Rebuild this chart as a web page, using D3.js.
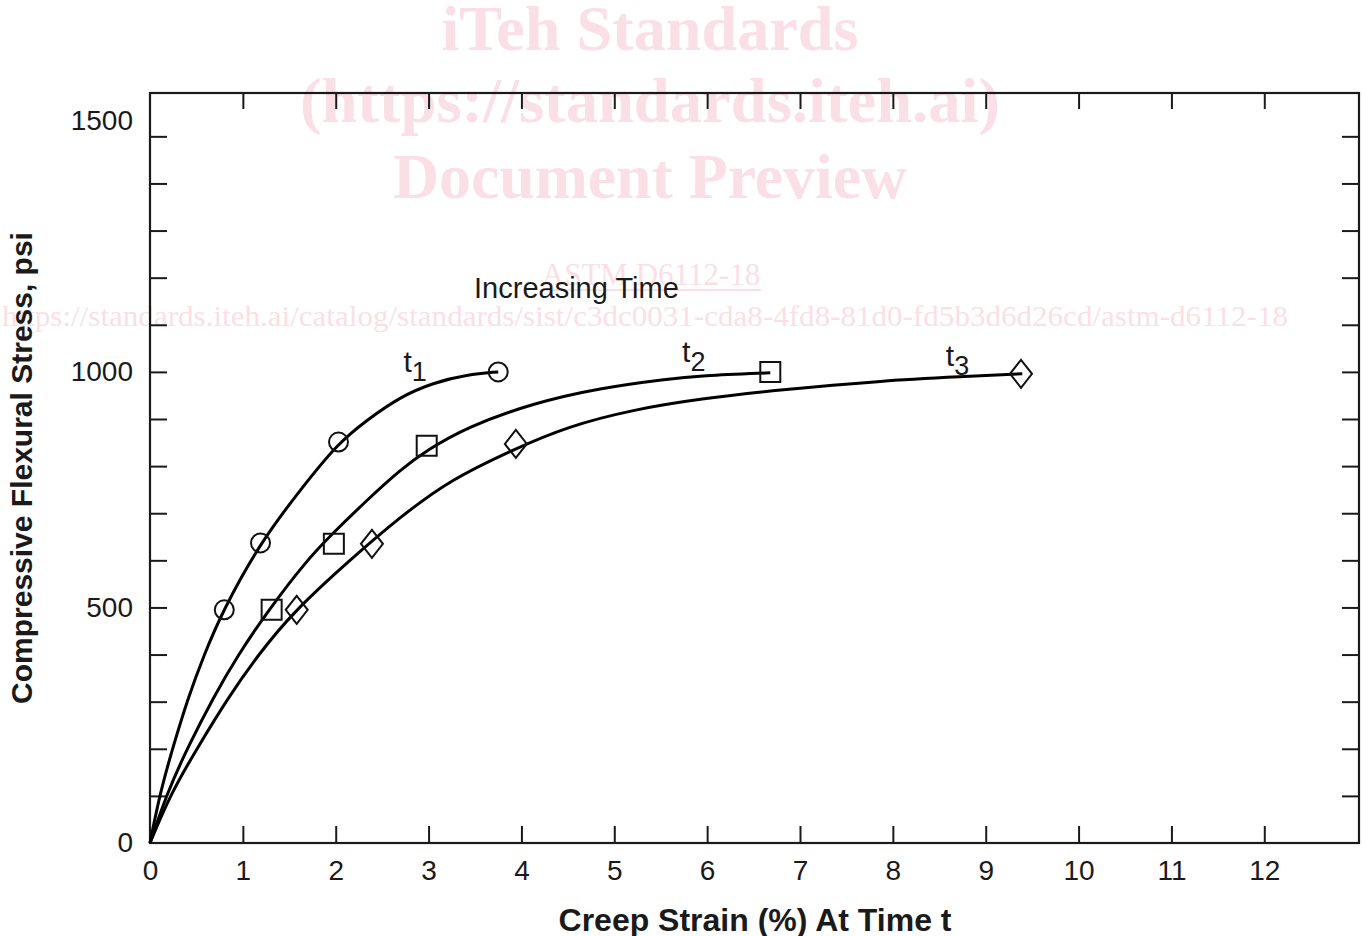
<!DOCTYPE html>
<html>
<head>
<meta charset="utf-8">
<script src="https://cdn.jsdelivr.net/npm/d3@7"></script>
<style>
  html, body { margin: 0; padding: 0; background: #fff; }
  svg { display: block; }
</style>
</head>
<body>
<svg id="chart" width="1369" height="936"></svg>
<script>
// ---------- data ----------
const xTickValues = [0,1,2,3,4,5,6,7,8,9,10,11,12];
const yTickValues = [0,100,200,300,400,500,600,700,800,900,1000,1100,1200,1300,1400,1500];
const yLabelValues = [0,500,1000,1500];

// fitted curves (strain %, stress psi)
const curveT1 = [[0,0],[0.108,106],[0.248,204],[0.409,308],[0.582,399],[0.776,490],[1.185,637],[1.616,749],[2.025,849],[2.338,898],[2.693,947],[3.049,977],[3.415,994],[3.75,1000]];
const curveT2 = [[0,0],[0.183,106],[0.409,204],[0.679,308],[0.948,399],[1.26,490],[1.691,601],[1.971,658],[2.338,728],[2.693,792],[2.984,834],[3.415,883],[4.126,934],[4.848,966],[5.569,985],[5.925,992],[6.68,998]];
const curveT3 = [[0,0],[0.226,106],[0.517,204],[0.84,308],[1.163,399],[1.54,490],[2.154,601],[2.693,692],[3.232,771],[3.91,835],[4.492,884],[5.203,920],[5.925,943],[6.787,962],[7.864,981],[8.758,990],[9.394,996]];

// measured points
const pointsT1 = [[0.80,495],[1.19,637],[2.03,851],[3.75,1000]];
const pointsT2 = [[1.31,495],[1.98,635],[2.98,843],[6.68,1000]];
const pointsT3 = [[1.58,495],[2.39,635],[3.94,847],[9.38,996]];

const curveLabels = [
  {t:"t", sub:"1", x:2.73, y:1000},
  {t:"t", sub:"2", x:5.73, y:1021},
  {t:"t", sub:"3", x:8.57, y:1013}
];
const annotation = {text:"Increasing Time", x:3.49, y:1157};

const xTitle = "Creep Strain (%) At Time t";
const yTitle = "Compressive Flexural Stress, psi";

const watermarkBig = ["iTeh Standards", "(https://standards.iteh.ai)", "Document Preview"];
const watermarkCode = "ASTM D6112-18";
const watermarkUrl = "https://standards.iteh.ai/catalog/standards/sist/c3dc0031-cda8-4fd8-81d0-fd5b3d6d26cd/astm-d6112-18";

// ---------- layout ----------
const svg = d3.select("#chart");
const L = 150, R = 1359, T = 93, B = 843;
const x = d3.scaleLinear().domain([0, 13.02]).range([L, R]);
const y = d3.scaleLinear().domain([0, 1592]).range([B, T]);
const ink = "#1a1a1a";
const pink = "#fadfe7";
const sans = "'Liberation Sans', Arial, sans-serif";
const serif = "'Liberation Serif', 'Times New Roman', serif";

// ---------- watermark (behind) ----------
const wm = svg.append("g").attr("fill", pink).attr("font-family", serif);
const wmBase = [50, 122, 198];
const wmLen = [417, 700, 514];
watermarkBig.forEach((s, i) => {
  wm.append("text").attr("x", 650).attr("y", wmBase[i])
    .attr("text-anchor", "middle").attr("font-weight", "bold")
    .attr("font-size", 64).attr("textLength", wmLen[i]).attr("lengthAdjust", "spacingAndGlyphs").text(s);
});
wm.append("text").attr("x", 651).attr("y", 285).attr("text-anchor", "middle")
  .attr("font-size", 31).text(watermarkCode);
wm.append("line").attr("x1", 541).attr("x2", 761).attr("y1", 290).attr("y2", 290)
  .attr("stroke", pink).attr("stroke-width", 2);
wm.append("text").attr("x", 2).attr("y", 326).attr("font-size", 29)
  .attr("textLength", 1286).attr("lengthAdjust", "spacingAndGlyphs").text(watermarkUrl);

// ---------- axes ----------
const fontSizeTick = 28;
const gx = svg.append("g").attr("transform", `translate(0,${B})`)
  .call(d3.axisBottom(x).tickValues(xTickValues).tickSize(-17).tickSizeOuter(0).tickPadding(17).tickFormat(d3.format("d")));
const gxt = svg.append("g").attr("transform", `translate(0,${T})`)
  .call(d3.axisTop(x).tickValues(xTickValues.slice(1)).tickSize(-16).tickSizeOuter(0).tickFormat(""));
const gy = svg.append("g").attr("transform", `translate(${L},0)`)
  .call(d3.axisLeft(y).tickValues(yTickValues).tickSize(-17).tickSizeOuter(0).tickPadding(17)
    .tickFormat(d => yLabelValues.includes(d) ? d3.format("d")(d) : ""));
const gyr = svg.append("g").attr("transform", `translate(${R},0)`)
  .call(d3.axisRight(y).tickValues(yTickValues.slice(1)).tickSize(-17).tickSizeOuter(0).tickFormat(""));

[gx, gxt, gy, gyr].forEach(g => {
  g.select(".domain").remove();
  g.selectAll(".tick line").attr("stroke", ink).attr("stroke-width", 2);
  g.selectAll(".tick text").attr("fill", ink).attr("font-family", sans).attr("font-size", fontSizeTick);
});
gy.selectAll(".tick").filter(d => d === 0).select("line").remove();
gx.selectAll(".tick").filter(d => d === 0).select("line").remove();
gy.selectAll(".tick text").filter(d => d === 1500).attr("transform", "translate(0,-16)");

svg.append("rect").attr("x", L).attr("y", T).attr("width", R - L).attr("height", B - T)
  .attr("fill", "none").attr("stroke", ink).attr("stroke-width", 2.2);

// ---------- curves ----------
const line = d3.line().x(d => x(d[0])).y(d => y(d[1])).curve(d3.curveBasis);
[curveT1, curveT2, curveT3].forEach(c => {
  svg.append("path").datum(c).attr("d", line)
    .attr("fill", "none").attr("stroke", "#000").attr("stroke-width", 3);
});

// ---------- markers ----------
const mk = svg.append("g").attr("fill", "none").attr("stroke", "#111").attr("stroke-width", 2);
mk.selectAll("circle").data(pointsT1).join("circle")
  .attr("cx", d => x(d[0])).attr("cy", d => y(d[1])).attr("r", 9.5);
mk.selectAll("path.sq").data(pointsT2).join("path").attr("class", "sq")
  .attr("d", d3.symbol(d3.symbolSquare, 400))
  .attr("transform", d => `translate(${x(d[0])},${y(d[1])})`);
const diamond = "M0,-14L11,0L0,14L-11,0Z";
mk.selectAll("path.dm").data(pointsT3).join("path").attr("class", "dm")
  .attr("d", diamond)
  .attr("transform", d => `translate(${x(d[0])},${y(d[1])})`);

// ---------- labels ----------
curveLabels.forEach(l => {
  const t = svg.append("text").attr("x", x(l.x)).attr("y", y(l.y))
    .attr("font-family", sans).attr("font-size", 30).attr("fill", ink);
  t.append("tspan").text(l.t);
  t.append("tspan").attr("dy", 9).attr("font-size", 27).text(l.sub);
});
svg.append("text").attr("x", x(annotation.x)).attr("y", y(annotation.y))
  .attr("font-family", sans).attr("font-size", 29).attr("fill", ink).text(annotation.text);

svg.append("text").attr("x", 755).attr("y", 931).attr("text-anchor", "middle")
  .attr("font-family", sans).attr("font-weight", "bold").attr("font-size", 32).attr("fill", ink)
  .text(xTitle);
svg.append("text").attr("transform", "translate(32,468) rotate(-90)").attr("text-anchor", "middle")
  .attr("font-family", sans).attr("font-weight", "bold").attr("font-size", 30).attr("fill", ink)
  .text(yTitle);
</script>
</body>
</html>
